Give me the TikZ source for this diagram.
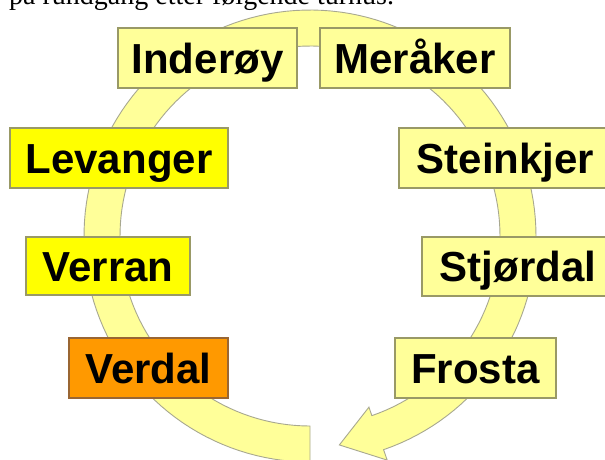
\documentclass[tikz,border=0pt]{standalone}
\usepackage{fontspec}
\setmainfont{Liberation Serif}
\newfontfamily\boxfont{Liberation Sans}
\definecolor{pale}{HTML}{FFFF99}
\definecolor{bright}{HTML}{FFFF00}
\definecolor{orangebox}{HTML}{FF9900}
\definecolor{boxline}{HTML}{999966}
\definecolor{brownline}{HTML}{996633}
\definecolor{ringline}{HTML}{A8A890}
\tikzset{
  cbox/.style={draw=boxline, line width=1.3pt, fill=pale,
    font=\boxfont\bfseries\fontsize{42}{48}\selectfont,
    text height=30pt, text depth=0pt, inner sep=0pt, minimum height=60pt},
  brightbox/.style={cbox, fill=bright},
  orangebox/.style={cbox, fill=orangebox, draw=brownline},
  ring/.style={fill=pale, draw=ringline, line width=0.9pt, line join=miter}
}
\begin{document}
\begin{tikzpicture}[x=1pt,y=-1pt]
\useasboundingbox (0,0) rectangle (605,459);
\clip (0,0) rectangle (605,459);
\fill[white] (0,0) rectangle (605,459);
\node[anchor=base west, inner sep=0pt, font=\fontsize{28}{30}\selectfont] (caption) at (9,4) {på rundgang etter følgende turnus.};
% circular arrow
\path[ring, shift={(310,236)}] (90:226) -- plot[domain=90:431, samples=150] (\x:226)
  -- (431:237) -- (442:211) -- (431:181)
  -- plot[domain=431:90, samples=150] (\x:190) -- cycle;
% boxes
\node[cbox, minimum width=179pt] (inderoy) at (207.5,58) {Inderøy};
\node[cbox, minimum width=190pt] (meraker) at (415,58) {Meråker};
\node[brightbox, minimum width=218pt] (levanger) at (119,158) {Levanger};
\node[cbox, minimum width=213pt] (steinkjer) at (505.5,158) {Steinkjer};
\node[brightbox, minimum width=164pt, minimum height=58pt] (verran) at (108,266) {Verran};
\node[cbox, minimum width=192pt, minimum height=59pt] (stjordal) at (518,266.5) {Stjørdal};
\node[orangebox, minimum width=159pt] (verdal) at (148.5,368) {Verdal};
\node[cbox, minimum width=161pt] (frosta) at (475.5,368) {Frosta};
\end{tikzpicture}
\end{document}
